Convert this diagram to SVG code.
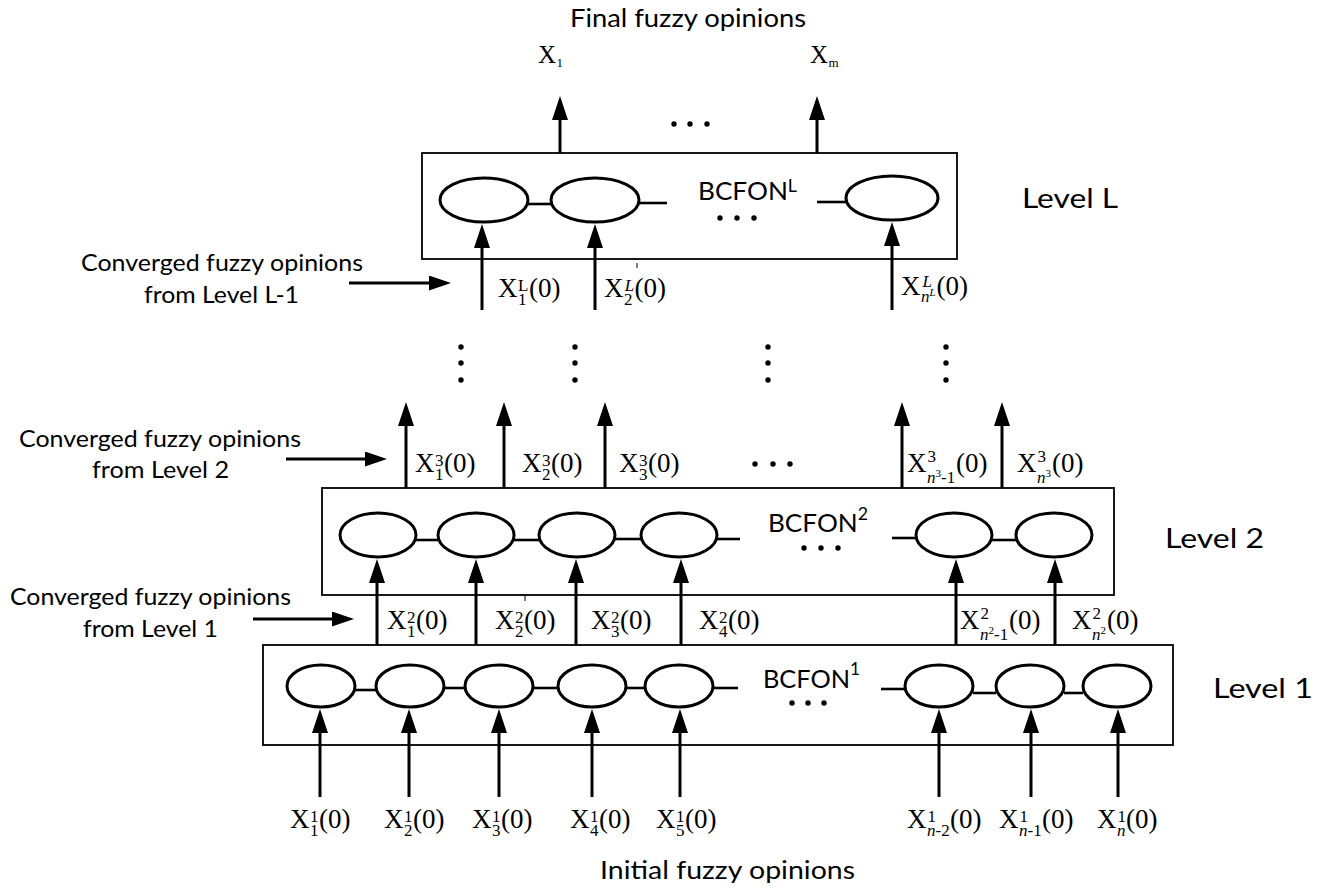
<svg xmlns="http://www.w3.org/2000/svg" width="1336" height="890" viewBox="0 0 1336 890">
<defs>
<style>
.bg{fill:#fff}
.box{fill:none;stroke:#000;stroke-width:1.8}
.nd{fill:#fff;stroke:#000;stroke-width:3}
.ln{stroke:#000;stroke-width:2.6;fill:none}
.ar{stroke:#000;stroke-width:3;fill:none;marker-end:url(#ah)}
.ar2{stroke:#000;stroke-width:3;fill:none;marker-end:url(#ahs)}
.tk{stroke:#000;stroke-width:1}
.sans{font-family:Lato,"Liberation Sans",sans-serif;fill:#000}
.m{font-family:"Liberation Serif","Times New Roman",serif;font-size:27px;fill:#000}
.s{font-size:17px}
.t{font-size:11px}
.i{font-style:italic}
.dot{fill:#000}
</style>
<marker id="ah" viewBox="0 0 24 16" refX="12" refY="8" markerWidth="24" markerHeight="16" markerUnits="userSpaceOnUse" orient="auto"><path d="M0,0 L24,8 L0,16 z" fill="#000"/></marker>
<marker id="ahs" viewBox="0 0 22 15" refX="11" refY="7.5" markerWidth="22" markerHeight="15" markerUnits="userSpaceOnUse" orient="auto"><path d="M0,0 L22,7.5 L0,15 z" fill="#000"/></marker>
</defs>
<rect class="bg" x="0" y="0" width="1336" height="890"/>

<!-- Level L -->
<g id="levelL">
<rect class="box" x="422" y="153" width="535" height="106"/>
<text class="sans" x="698" y="200" font-size="25" textLength="99" lengthAdjust="spacingAndGlyphs">BCFON<tspan font-size="17" dy="-8">L</tspan></text>
<circle class="dot" cx="720" cy="218" r="2.7"/><circle class="dot" cx="737" cy="218" r="2.7"/><circle class="dot" cx="754" cy="218" r="2.7"/>
</g>
<g id="nL1"><ellipse class="nd" cx="484" cy="200" rx="44" ry="22"/></g>
<g id="nL2"><ellipse class="nd" cx="595" cy="200" rx="44" ry="22"/></g>
<g id="nL3"><ellipse class="nd" cx="892" cy="198" rx="46" ry="22"/></g>
<g id="levelL-label"><text class="sans" x="1022" y="208" font-size="27" textLength="96" lengthAdjust="spacingAndGlyphs">Level L</text></g>

<!-- Level 2 -->
<g id="level2">
<rect class="box" x="322" y="488" width="792" height="107"/>
<text class="sans" x="768" y="532" font-size="25" textLength="100" lengthAdjust="spacingAndGlyphs">BCFON<tspan font-size="17" dy="-12">2</tspan></text>
<circle class="dot" cx="804" cy="548" r="2.7"/><circle class="dot" cx="821" cy="548" r="2.7"/><circle class="dot" cx="838" cy="548" r="2.7"/>
</g>
<g id="n21"><ellipse class="nd" cx="378" cy="535" rx="38" ry="22"/></g>
<g id="n22"><ellipse class="nd" cx="476" cy="535" rx="38" ry="22"/></g>
<g id="n23"><ellipse class="nd" cx="577" cy="535" rx="38" ry="22"/></g>
<g id="n24"><ellipse class="nd" cx="679" cy="535" rx="38" ry="22"/></g>
<g id="n25"><ellipse class="nd" cx="954" cy="535" rx="38" ry="22"/></g>
<g id="n26"><ellipse class="nd" cx="1054" cy="535" rx="38" ry="22"/></g>
<g id="level2-label"><text class="sans" x="1165" y="548" font-size="27" textLength="99" lengthAdjust="spacingAndGlyphs">Level 2</text></g>

<!-- Level 1 -->
<g id="level1">
<rect class="box" x="263" y="645" width="910" height="100"/>
<text class="sans" x="763" y="688" font-size="25" textLength="97" lengthAdjust="spacingAndGlyphs">BCFON<tspan font-size="17" dy="-13">1</tspan></text>
<circle class="dot" cx="792" cy="703" r="2.7"/><circle class="dot" cx="808" cy="703" r="2.7"/><circle class="dot" cx="824" cy="703" r="2.7"/>
</g>
<g id="n11"><ellipse class="nd" cx="321" cy="686" rx="34" ry="21"/></g>
<g id="n12"><ellipse class="nd" cx="410" cy="686" rx="34" ry="21"/></g>
<g id="n13"><ellipse class="nd" cx="499" cy="686" rx="34" ry="21"/></g>
<g id="n14"><ellipse class="nd" cx="592" cy="686" rx="34" ry="21"/></g>
<g id="n15"><ellipse class="nd" cx="679" cy="686" rx="34" ry="21"/></g>
<g id="n16"><ellipse class="nd" cx="939" cy="686" rx="34" ry="21"/></g>
<g id="n17"><ellipse class="nd" cx="1030" cy="686" rx="34" ry="21"/></g>
<g id="n18"><ellipse class="nd" cx="1117" cy="686" rx="34" ry="21"/></g>
<g id="level1-label"><text class="sans" x="1213" y="698" font-size="27" textLength="100" lengthAdjust="spacingAndGlyphs">Level 1</text></g>

<!-- Titles and side labels -->
<g id="title-final"><text class="sans" x="570" y="27" font-size="25" textLength="236" lengthAdjust="spacingAndGlyphs">Final fuzzy opinions</text></g>
<g id="title-initial"><text class="sans" x="600" y="879" font-size="25" textLength="255" lengthAdjust="spacingAndGlyphs">Initial fuzzy opinions</text></g>
<g id="side-L">
<text class="sans" x="81" y="271" font-size="24" textLength="282" lengthAdjust="spacingAndGlyphs">Converged fuzzy opinions</text>
<text class="sans" x="144" y="303" font-size="24" textLength="155" lengthAdjust="spacingAndGlyphs">from Level L-1</text>
</g>
<g id="side-2">
<text class="sans" x="19" y="447" font-size="24" textLength="282" lengthAdjust="spacingAndGlyphs">Converged fuzzy opinions</text>
<text class="sans" x="92" y="478" font-size="24" textLength="137" lengthAdjust="spacingAndGlyphs">from Level 2</text>
</g>
<g id="side-1">
<text class="sans" x="10" y="605" font-size="24" textLength="281" lengthAdjust="spacingAndGlyphs">Converged fuzzy opinions</text>
<text class="sans" x="83" y="637" font-size="24" textLength="135" lengthAdjust="spacingAndGlyphs">from Level 1</text>
</g>

<!-- Output labels -->
<g id="out-labels">
<text class="m" x="538" y="63" style="font-size:25px"><tspan x="538" y="63">X</tspan><tspan x="556.5" y="67" style="font-size:13px">1</tspan></text>
<text class="m" x="810" y="63" style="font-size:25px"><tspan x="810" y="63">X</tspan><tspan x="828.5" y="67" style="font-size:13px">m</tspan></text>
<circle class="dot" cx="674" cy="124" r="2.7"/><circle class="dot" cx="690" cy="124" r="2.7"/><circle class="dot" cx="707" cy="124" r="2.7"/>
</g>

<!-- Level L input labels -->
<g id="labels-L">
<text class="m" transform="translate(498,297)"><tspan x="0" y="0">X</tspan><tspan class="s" x="20" y="-6">L</tspan><tspan class="s" x="20" y="8">1</tspan><tspan x="31" y="0">(0)</tspan></text>
<text class="m" transform="translate(604,297)"><tspan x="0" y="0">X</tspan><tspan class="s i" x="20.8" y="-6">L</tspan><tspan class="s" x="20" y="8">2</tspan><tspan x="30.5" y="0">(0)</tspan></text>
<text class="m" transform="translate(901,295)"><tspan x="0" y="0">X</tspan><tspan class="s i" x="21.5" y="-8">L</tspan><tspan class="s i" x="20" y="7">n</tspan><tspan class="t i" x="28.5" y="1">L</tspan><tspan x="35.5" y="0">(0)</tspan></text>
<line class="tk" x1="637" y1="263" x2="637" y2="268"/>
</g>

<!-- vertical ellipsis -->
<g id="vdots">
<circle class="dot" cx="461" cy="347" r="2.7"/><circle class="dot" cx="461" cy="363" r="2.7"/><circle class="dot" cx="461" cy="380" r="2.7"/>
<circle class="dot" cx="575" cy="347" r="2.7"/><circle class="dot" cx="575" cy="363" r="2.7"/><circle class="dot" cx="575" cy="380" r="2.7"/>
<circle class="dot" cx="768" cy="347" r="2.7"/><circle class="dot" cx="768" cy="363" r="2.7"/><circle class="dot" cx="768" cy="380" r="2.7"/>
<circle class="dot" cx="946" cy="347" r="2.7"/><circle class="dot" cx="946" cy="363" r="2.7"/><circle class="dot" cx="946" cy="380" r="2.7"/>
</g>

<!-- Level 3 labels -->
<g id="labels-3">
<text class="m" transform="translate(415,472)"><tspan x="0" y="0">X</tspan><tspan class="s" x="20" y="-6">3</tspan><tspan class="s" x="20" y="8">1</tspan><tspan x="29" y="0">(0)</tspan></text>
<text class="m" transform="translate(522,472)"><tspan x="0" y="0">X</tspan><tspan class="s" x="20" y="-6">3</tspan><tspan class="s" x="20" y="8">2</tspan><tspan x="29" y="0">(0)</tspan></text>
<text class="m" transform="translate(619,472)"><tspan x="0" y="0">X</tspan><tspan class="s" x="20" y="-6">3</tspan><tspan class="s" x="20" y="8">3</tspan><tspan x="29" y="0">(0)</tspan></text>
<text class="m" transform="translate(907,472)"><tspan x="0" y="0">X</tspan><tspan class="s" x="20.5" y="-10">3</tspan><tspan class="s i" x="20" y="11">n</tspan><tspan class="t" x="28.5" y="5">3</tspan><tspan class="s" x="34" y="11">-1</tspan><tspan x="49" y="0">(0)</tspan></text>
<text class="m" transform="translate(1017,472)"><tspan x="0" y="0">X</tspan><tspan class="s" x="20.5" y="-10">3</tspan><tspan class="s i" x="20" y="11">n</tspan><tspan class="t" x="28.5" y="5">3</tspan><tspan x="35" y="0">(0)</tspan></text>
<circle class="dot" cx="755" cy="464" r="2.7"/><circle class="dot" cx="773" cy="464" r="2.7"/><circle class="dot" cx="790" cy="464" r="2.7"/>
</g>

<!-- Level 2 input labels -->
<g id="labels-2">
<text class="m" transform="translate(387,629)"><tspan x="0" y="0">X</tspan><tspan class="s" x="20" y="-6">2</tspan><tspan class="s" x="20" y="8">1</tspan><tspan x="29" y="0">(0)</tspan></text>
<text class="m" transform="translate(495,629)"><tspan x="0" y="0">X</tspan><tspan class="s" x="20" y="-6">2</tspan><tspan class="s" x="20" y="8">2</tspan><tspan x="29" y="0">(0)</tspan></text>
<text class="m" transform="translate(591,629)"><tspan x="0" y="0">X</tspan><tspan class="s" x="20" y="-6">2</tspan><tspan class="s" x="20" y="8">3</tspan><tspan x="29" y="0">(0)</tspan></text>
<text class="m" transform="translate(699,629)"><tspan x="0" y="0">X</tspan><tspan class="s" x="20" y="-6">2</tspan><tspan class="s" x="20" y="8">4</tspan><tspan x="29" y="0">(0)</tspan></text>
<text class="m" transform="translate(960,629)"><tspan x="0" y="0">X</tspan><tspan class="s" x="20.5" y="-10">2</tspan><tspan class="s i" x="20" y="11">n</tspan><tspan class="t" x="28.5" y="5">2</tspan><tspan class="s" x="34" y="11">-1</tspan><tspan x="49" y="0">(0)</tspan></text>
<text class="m" transform="translate(1072,629)"><tspan x="0" y="0">X</tspan><tspan class="s" x="20.5" y="-10">2</tspan><tspan class="s i" x="20" y="11">n</tspan><tspan class="t" x="28.5" y="5">2</tspan><tspan x="35" y="0">(0)</tspan></text>
<line class="tk" x1="525" y1="596" x2="525" y2="601"/>
</g>

<!-- Level 1 input labels -->
<g id="labels-1">
<text class="m" transform="translate(290,828)"><tspan x="0" y="0">X</tspan><tspan class="s" x="20" y="-6">1</tspan><tspan class="s" x="20" y="8">1</tspan><tspan x="29" y="0">(0)</tspan></text>
<text class="m" transform="translate(384,828)"><tspan x="0" y="0">X</tspan><tspan class="s" x="20" y="-6">1</tspan><tspan class="s" x="20" y="8">2</tspan><tspan x="29" y="0">(0)</tspan></text>
<text class="m" transform="translate(472,828)"><tspan x="0" y="0">X</tspan><tspan class="s" x="20" y="-6">1</tspan><tspan class="s" x="20" y="8">3</tspan><tspan x="29" y="0">(0)</tspan></text>
<text class="m" transform="translate(570,828)"><tspan x="0" y="0">X</tspan><tspan class="s" x="20" y="-6">1</tspan><tspan class="s" x="20" y="8">4</tspan><tspan x="29" y="0">(0)</tspan></text>
<text class="m" transform="translate(656,828)"><tspan x="0" y="0">X</tspan><tspan class="s" x="20" y="-6">1</tspan><tspan class="s" x="20" y="8">5</tspan><tspan x="29" y="0">(0)</tspan></text>
<text class="m" transform="translate(907,828)"><tspan x="0" y="0">X</tspan><tspan class="s" x="20.5" y="-6">1</tspan><tspan class="s i" x="20" y="8">n</tspan><tspan class="s" x="28.5" y="8">-2</tspan><tspan x="43" y="0">(0)</tspan></text>
<text class="m" transform="translate(999,828)"><tspan x="0" y="0">X</tspan><tspan class="s" x="20.5" y="-6">1</tspan><tspan class="s i" x="20" y="8">n</tspan><tspan class="s" x="28.5" y="8">-1</tspan><tspan x="43" y="0">(0)</tspan></text>
<text class="m" transform="translate(1097,828)"><tspan x="0" y="0">X</tspan><tspan class="s" x="20.5" y="-6">1</tspan><tspan class="s i" x="20" y="8">n</tspan><tspan x="29" y="0">(0)</tspan></text>
</g>

<!-- Connectors -->
<g id="connectors">
<line class="ln" x1="527" y1="204" x2="552" y2="204"/>
<line class="ln" x1="639" y1="203" x2="667" y2="203"/>
<line class="ln" x1="817" y1="202" x2="847" y2="202"/>
<line class="ln" x1="416" y1="540" x2="438" y2="540"/>
<line class="ln" x1="514" y1="540" x2="539" y2="540"/>
<line class="ln" x1="615" y1="539" x2="641" y2="539"/>
<line class="ln" x1="717" y1="539" x2="740" y2="539"/>
<line class="ln" x1="892" y1="538" x2="916" y2="538"/>
<line class="ln" x1="992" y1="540" x2="1016" y2="540"/>
<line class="ln" x1="355" y1="690" x2="376" y2="690"/>
<line class="ln" x1="444" y1="688" x2="465" y2="688"/>
<line class="ln" x1="533" y1="688" x2="558" y2="688"/>
<line class="ln" x1="626" y1="688" x2="645" y2="688"/>
<line class="ln" x1="713" y1="688" x2="738" y2="688"/>
<line class="ln" x1="881" y1="689" x2="905" y2="689"/>
<line class="ln" x1="973" y1="693" x2="996" y2="693"/>
<line class="ln" x1="1064" y1="693" x2="1083" y2="693"/>

<line class="ar" x1="560" y1="153" x2="560" y2="108"/>
<line class="ar" x1="817" y1="153" x2="817" y2="108"/>

<line class="ar" x1="482" y1="310" x2="482" y2="236"/>
<line class="ar" x1="595" y1="310" x2="595" y2="236"/>
<line class="ar" x1="892" y1="310" x2="892" y2="234"/>

<line class="ar" x1="406" y1="488" x2="406" y2="414"/>
<line class="ar" x1="504" y1="488" x2="504" y2="414"/>
<line class="ar" x1="605" y1="488" x2="605" y2="414"/>
<line class="ar" x1="902" y1="488" x2="902" y2="414"/>
<line class="ar" x1="1002" y1="488" x2="1002" y2="414"/>

<line class="ar" x1="377" y1="645" x2="377" y2="571"/>
<line class="ar" x1="476" y1="645" x2="476" y2="571"/>
<line class="ar" x1="576" y1="645" x2="576" y2="571"/>
<line class="ar" x1="681" y1="645" x2="681" y2="571"/>
<line class="ar" x1="956" y1="645" x2="956" y2="571"/>
<line class="ar" x1="1055" y1="645" x2="1055" y2="571"/>

<line class="ar" x1="320" y1="797" x2="320" y2="721"/>
<line class="ar" x1="409" y1="797" x2="409" y2="721"/>
<line class="ar" x1="499" y1="797" x2="499" y2="721"/>
<line class="ar" x1="592" y1="797" x2="592" y2="721"/>
<line class="ar" x1="680" y1="797" x2="680" y2="721"/>
<line class="ar" x1="939" y1="797" x2="939" y2="721"/>
<line class="ar" x1="1031" y1="797" x2="1031" y2="721"/>
<line class="ar" x1="1118" y1="797" x2="1118" y2="721"/>

<line class="ar2" x1="349" y1="283" x2="440" y2="283"/>
<line class="ar2" x1="286" y1="459" x2="376" y2="459"/>
<line class="ar2" x1="253" y1="619" x2="343" y2="619"/>
</g>
</svg>
